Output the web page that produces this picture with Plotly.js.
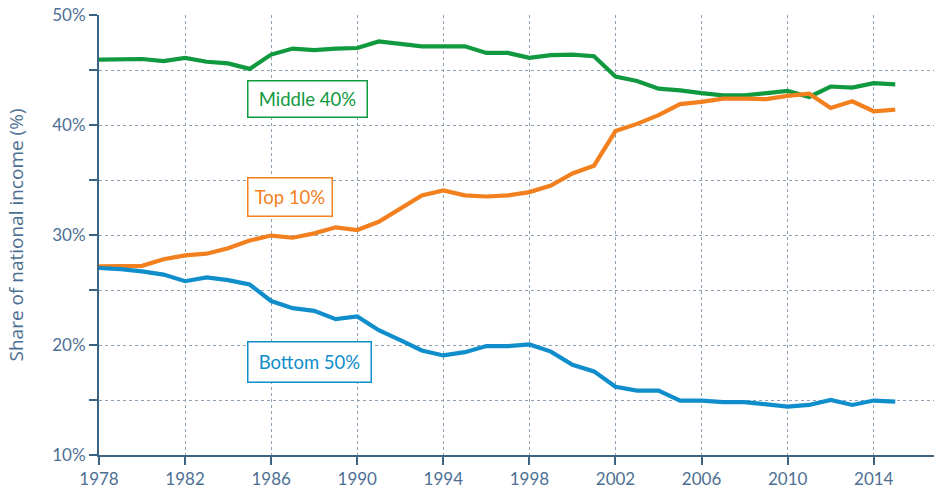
<!DOCTYPE html>
<html>
<head>
<meta charset="utf-8">
<script src="https://cdn.plot.ly/plotly-3.0.1.min.js"></script>
<style>html,body{margin:0;padding:0;background:#fff;}#chart{width:934px;height:493px;}</style>
</head>
<body>
<div id="chart"></div>
<script>
const years = [1978,1979,1980,1981,1982,1983,1984,1985,1986,1987,1988,1989,1990,1991,1992,1993,1994,1995,1996,1997,1998,1999,2000,2001,2002,2003,2004,2005,2006,2007,2008,2009,2010,2011,2012,2013,2014,2015];
const middle40 = [45.95,46.0,46.0,45.8,46.1,45.75,45.6,45.1,46.4,46.95,46.8,46.95,47.0,47.6,47.4,47.15,47.15,47.15,46.55,46.55,46.1,46.35,46.4,46.25,44.4,44.0,43.3,43.15,42.9,42.7,42.7,42.9,43.1,42.55,43.5,43.4,43.8,43.7];
const top10 = [27.15,27.2,27.2,27.8,28.15,28.3,28.8,29.5,29.95,29.75,30.15,30.7,30.45,31.2,32.4,33.6,34.05,33.6,33.5,33.6,33.9,34.5,35.6,36.3,39.45,40.1,40.9,41.9,42.1,42.4,42.4,42.35,42.65,42.85,41.55,42.15,41.25,41.4];
const bottom50 = [27.0,26.9,26.7,26.4,25.8,26.15,25.9,25.5,24.0,23.35,23.1,22.35,22.6,21.35,20.45,19.5,19.05,19.35,19.9,19.9,20.05,19.4,18.2,17.6,16.2,15.85,15.85,14.95,14.95,14.8,14.8,14.6,14.4,14.55,15.0,14.55,14.95,14.85];
const seriesNames = ['Middle 40%','Top 10%','Bottom 50%'];
const yTickVals = [10,15,20,25,30,35,40,45,50];
const yTickText = ['10%','','20%','','30%','','40%','','50%'];
const xTickVals = [1978,1982,1986,1990,1994,1998,2002,2006,2010,2014];

const cGreen = '#11993f', cOrange = '#f2801f', cBlue = '#0f8ecb';
const axisCol = '#3c6484', tickCol = '#4d6f93', gridCol = '#8ea1b3';

const traces = [
  {x: years, y: middle40, name: seriesNames[0], mode: 'lines', line: {color: cGreen, width: 4.2}},
  {x: years, y: top10, name: seriesNames[1], mode: 'lines', line: {color: cOrange, width: 4.2}},
  {x: years, y: bottom50, name: seriesNames[2], mode: 'lines', line: {color: cBlue, width: 4.2}}
];

function box(text, x, y, col, w, h) {
  return {x: x, y: y, xref: 'x', yref: 'y', text: text, showarrow: false,
    xanchor: 'left', yanchor: 'middle',
    font: {family: 'Lato, sans-serif', size: 18.5, color: col},
    bgcolor: '#ffffff', bordercolor: col, borderwidth: 1.5, borderpad: 0,
    width: w, height: h};
}

const layout = {
  width: 934, height: 493,
  margin: {l: 99, r: 0, t: 15, b: 38},
  paper_bgcolor: '#ffffff', plot_bgcolor: '#ffffff',
  showlegend: false,
  font: {family: 'Lato, sans-serif', color: tickCol},
  xaxis: {
    range: [1978, 2016.8], tickvals: xTickVals, ticktext: xTickVals.map(String),
    showgrid: true, gridcolor: gridCol, griddash: 'dot', gridwidth: 1,
    showline: true, linecolor: axisCol, linewidth: 2,
    ticks: 'outside', ticklen: 8, tickwidth: 2, tickcolor: axisCol,
    tickfont: {size: 17, color: tickCol}, zeroline: false
  },
  yaxis: {
    range: [10, 50], tickvals: yTickVals, ticktext: yTickText,
    showgrid: true, gridcolor: gridCol, griddash: 'dot', gridwidth: 1,
    showline: true, linecolor: axisCol, linewidth: 2,
    ticks: 'outside', ticklen: 8, tickwidth: 2, tickcolor: axisCol,
    tickfont: {size: 17, color: tickCol}, zeroline: false,
    title: {text: 'Share of national income (%)', font: {family: '"Open Sans", sans-serif', size: 19, color: tickCol}, standoff: 24}
  },
  annotations: [
    box(seriesNames[0], 1984.88, 42.35, cGreen, 118, 35),
    box(seriesNames[1], 1984.88, 33.45, cOrange, 83, 37),
    box(seriesNames[2], 1984.88, 18.45, cBlue, 122, 39)
  ]
};

Plotly.newPlot('chart', traces, layout, {displayModeBar: false, staticPlot: true});
</script>
</body>
</html>
